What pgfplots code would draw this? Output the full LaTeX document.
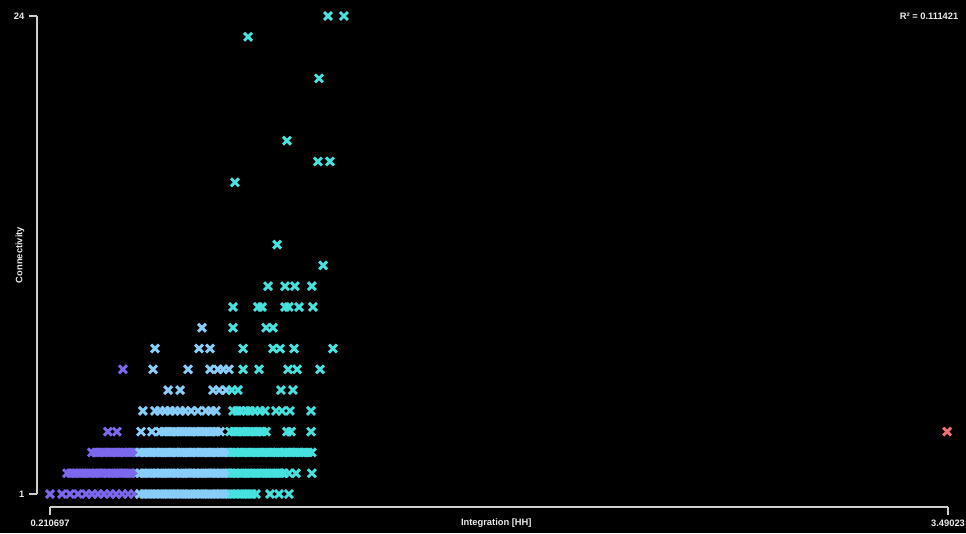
\documentclass[border=0pt]{standalone}
\usepackage{pgfplots}
\pgfplotsset{compat=1.18}
\usepackage{fontspec}
\setmainfont{Liberation Sans}
\definecolor{cpurple}{RGB}{123,104,238}
\definecolor{cblue}{RGB}{135,206,250}
\definecolor{ccyan}{RGB}{70,226,224}
\definecolor{cred}{RGB}{240,110,110}
\definecolor{axgray}{RGB}{205,205,205}
\definecolor{txt}{RGB}{235,235,235}
\begin{document}
\begin{tikzpicture}[x=1pt,y=1pt]
\fill[black] (0,0) rectangle (724.5,399.75);
\begin{axis}[
  at={(37.5pt,29.25pt)}, anchor=south west,
  scale only axis, width=673.5pt, height=358.5pt,
  xmin=0.210697, xmax=3.49023, ymin=1, ymax=24,
  clip=false,
  axis x line*=bottom, axis y line*=left,
  axis x line shift=9.75pt, axis y line shift=9.75pt,
  axis line style={axgray, line width=1.2pt, -},
  tick style={axgray, line width=1.2pt},
  tick align=outside, major tick length=6pt,
  xtick={0.210697,3.49023}, xticklabels={0.210697,3.49023},
  ytick={1,24}, yticklabels={1,24},
  ticklabel style={font=\bfseries\fontsize{7}{8}\selectfont, text=txt},
  xlabel={Integration [HH]}, ylabel={Connectivity},
  label style={font=\bfseries\fontsize{7}{8}\selectfont, text=txt},
  xlabel style={at={(axis description cs:0.497,-0.0607)}, anchor=center},
  ylabel style={at={(axis description cs:-0.0334,0.5)}, anchor=center},
  every axis plot/.append style={only marks, mark=x, mark size=4.2pt},
]
% purple
\addplot[mark options={draw=cpurple, line width=2.2pt}] coordinates {
(0.2107,1)(0.2545,1)(0.2837,1)(0.3129,1)(0.3422,1)(0.364,1)(0.386,1)(0.408,1)(0.430,1)(0.452,1)(0.474,1)(0.496,1)(0.518,1)
(0.273,2)(0.287,2)(0.302,2)(0.317,2)(0.331,2)(0.346,2)(0.360,2)(0.375,2)(0.390,2)(0.404,2)(0.419,2)(0.434,2)(0.448,2)(0.463,2)(0.477,2)(0.492,2)(0.506,2)(0.521,2)
(0.364,3)(0.379,3)(0.393,3)(0.408,3)(0.423,3)(0.437,3)(0.452,3)(0.466,3)(0.481,3)(0.496,3)(0.510,3)(0.525,3)
(0.422,4)(0.455,4)
(0.477,7)
};
% light blue
\addplot[mark options={draw=cblue, line width=2.2pt}] coordinates {
(0.539,1)(0.554,1)(0.569,1)(0.583,1)(0.598,1)(0.613,1)(0.627,1)(0.642,1)(0.656,1)(0.671,1)(0.686,1)(0.700,1)(0.715,1)(0.729,1)(0.744,1)(0.759,1)(0.773,1)(0.788,1)(0.802,1)(0.817,1)(0.832,1)(0.846,1)(0.861,1)
(0.539,2)(0.554,2)(0.569,2)(0.583,2)(0.598,2)(0.613,2)(0.627,2)(0.642,2)(0.656,2)(0.671,2)(0.686,2)(0.700,2)(0.715,2)(0.729,2)(0.744,2)(0.759,2)(0.773,2)(0.788,2)(0.802,2)(0.817,2)(0.832,2)(0.846,2)(0.861,2)
(0.539,3)(0.554,3)(0.569,3)(0.583,3)(0.598,3)(0.613,3)(0.627,3)(0.642,3)(0.656,3)(0.671,3)(0.686,3)(0.700,3)(0.715,3)(0.729,3)(0.744,3)(0.759,3)(0.773,3)(0.788,3)(0.802,3)(0.817,3)(0.832,3)(0.846,3)(0.861,3)
(0.543,4)(0.583,4)(0.612,4)(0.627,4)(0.642,4)(0.656,4)(0.671,4)(0.686,4)(0.700,4)(0.715,4)(0.729,4)(0.744,4)(0.759,4)(0.773,4)(0.788,4)(0.802,4)(0.817,4)(0.832,4)
(0.550,5)(0.594,5)(0.612,5)(0.631,5)(0.649,5)(0.667,5)(0.686,5)(0.704,5)(0.726,5)(0.751,5)(0.780,5)(0.799,5)(0.817,5)
(0.642,6)(0.686,6)(0.806,6)(0.828,6)(0.854,6)
(0.587,7)(0.715,7)(0.795,7)(0.824,7)(0.843,7)(0.864,7)
(0.594,8)(0.755,8)(0.795,8)
(0.766,9)
};
% cyan
\addplot[mark options={draw=ccyan, line width=2.2pt}] coordinates {
(0.875,1)(0.890,1)(0.905,1)(0.919,1)(0.934,1)(0.948,1)(0.963,1)(1.014,1)(1.047,1)(1.083,1)
(0.875,2)(0.890,2)(0.905,2)(0.919,2)(0.934,2)(0.948,2)(0.963,2)(0.978,2)(0.992,2)(1.007,2)(1.021,2)(1.036,2)(1.050,2)(1.065,2)(1.083,2)(1.109,2)(1.167,2)
(0.875,3)(0.890,3)(0.905,3)(0.919,3)(0.934,3)(0.948,3)(0.963,3)(0.978,3)(0.992,3)(1.007,3)(1.021,3)(1.036,3)(1.050,3)(1.065,3)(1.080,3)(1.094,3)(1.109,3)(1.123,3)(1.138,3)(1.153,3)(1.167,3)
(0.868,4)(0.883,4)(0.897,4)(0.912,4)(0.927,4)(0.941,4)(0.956,4)(0.970,4)(0.985,4)(1.000,4)(1.076,4)(1.091,4)(1.164,4)
(0.879,5)(0.894,5)(0.908,5)(0.927,5)(0.941,5)(0.959,5)(0.978,5)(0.996,5)(1.036,5)(1.058,5)(1.087,5)(1.164,5)
(0.875,6)(0.897,6)(1.054,6)(1.098,6)
(0.916,7)(0.974,7)(1.080,7)(1.113,7)(1.197,7)
(0.916,8)(1.025,8)(1.051,8)(1.102,8)(1.244,8)
(0.879,9)(1.000,9)(1.025,9)
(0.879,10)(0.970,10)(0.985,10)(1.069,10)(1.083,10)(1.120,10)(1.171,10)
(1.007,11)(1.069,11)(1.105,11)(1.167,11)
(1.208,12)
(1.040,13)
(0.886,16)
(1.189,17)(1.233,17)
(1.076,18)
(1.193,21)
(0.934,23)
(1.226,24)(1.284,24)
};
% red
\addplot[mark options={draw=cred, line width=2.2pt}] coordinates {
(3.487,4)
};
\node[anchor=east, text=txt, font=\bfseries\fontsize{7}{8}\selectfont] at (axis description cs:1.0167,1) {R² = 0.111421};
\end{axis}
\pgfresetboundingbox
\path[use as bounding box] (0,0) rectangle (724.5,399.75);
\end{tikzpicture}
\end{document}
